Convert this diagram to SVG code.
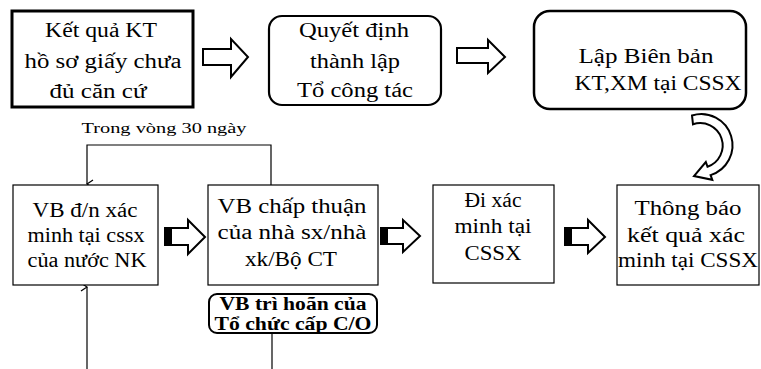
<svg xmlns="http://www.w3.org/2000/svg" width="761" height="369" viewBox="0 0 761 369">
<style>
text{font-family:"Liberation Serif","DejaVu Serif","Times New Roman",serif;fill:#000;text-anchor:middle}
.t{font-size:20px}
.b{font-size:18px;font-weight:bold}
.s{font-size:15px}
.box{fill:#fff;stroke:#000}
.blk{fill:#fff;stroke:#000;stroke-width:2;stroke-linejoin:miter}
.ln{fill:none;stroke:#000;stroke-width:1.2}
</style>
<defs>
<marker id="ah" markerWidth="10" markerHeight="10" refX="5" refY="9" orient="auto-start-reverse" markerUnits="userSpaceOnUse" viewBox="0 0 10 10">
<path d="M1,3 L5,9 L9,3" fill="none" stroke="#000" stroke-width="1.3"/>
</marker>
</defs>
<rect width="761" height="369" fill="#fff"/>

<g id="connectors">
<path class="ln" d="M271,185 V145 H87 V184" marker-end="url(#ah)"/>
<path class="ln" d="M87,369 V287" marker-end="url(#ah)"/>
<path class="ln" d="M272,333 V369"/>
<path class="blk" d="M203,49 H231 V39 L248,57 L231,77 V65 H203 Z"/>
<path class="blk" d="M457,48 H488 V40 L505,57 L488,73 V63 H457 Z"/>
<path class="blk" d="M692,115.5 A31,31 0 0 1 710.6,175.1 L712.3,179.8 L694,176 L705.8,162 L707.5,166.7 A22,22 0 0 0 693,124.3 Z"/>
<path class="blk" d="M165,228 H188 V220 L205,237 L188,254 V245 H165 Z"/>
<rect x="165" y="228" width="7" height="17" fill="#000"/>
<path class="blk" d="M381,228 H403 V220 L420,236 L403,252 V244 H381 Z"/>
<rect x="381" y="228" width="7" height="16" fill="#000"/>
<path class="blk" d="M565,228 H588 V220 L605,237 L588,253 V245 H565 Z"/>
<rect x="565" y="228" width="7" height="17" fill="#000"/>
</g>

<g id="n1">
<rect class="box" x="12" y="11" width="181" height="96" stroke-width="3"/>
<text class="t" x="101" y="37" textLength="112" lengthAdjust="spacingAndGlyphs">Kết quả KT</text>
<text class="t" x="103" y="68" textLength="157" lengthAdjust="spacingAndGlyphs">hồ sơ giấy chưa</text>
<text class="t" x="98" y="98" textLength="97" lengthAdjust="spacingAndGlyphs">đủ căn cứ</text>
</g>

<g id="n2">
<rect class="box" x="269" y="16" width="172" height="89" rx="13" stroke-width="2.2"/>
<text class="t" x="354" y="37" textLength="110" lengthAdjust="spacingAndGlyphs">Quyết định</text>
<text class="t" x="355" y="68" textLength="90" lengthAdjust="spacingAndGlyphs">thành lập</text>
<text class="t" x="355" y="97" textLength="116" lengthAdjust="spacingAndGlyphs">Tổ công tác</text>
</g>

<g id="n3">
<rect class="box" x="534" y="11" width="212" height="98" rx="16" stroke-width="2.5"/>
<text class="t" x="646" y="63" textLength="135" lengthAdjust="spacingAndGlyphs">Lập Biên bản</text>
<text class="t" x="658" y="90" textLength="167" lengthAdjust="spacingAndGlyphs">KT,XM tại CSSX</text>
</g>

<g id="label">
<text class="s" x="164" y="133" textLength="165" lengthAdjust="spacingAndGlyphs">Trong vòng 30 ngày</text>
</g>

<g id="n4">
<rect class="box" x="13" y="185" width="145" height="100" stroke-width="1.2"/>
<text class="t" x="85" y="217" textLength="105" lengthAdjust="spacingAndGlyphs">VB đ/n xác</text>
<text class="t" x="86" y="242" textLength="117" lengthAdjust="spacingAndGlyphs">minh tại cssx</text>
<text class="t" x="87" y="267" textLength="119" lengthAdjust="spacingAndGlyphs">của nước NK</text>
</g>

<g id="n5">
<rect class="box" x="208" y="185" width="170" height="100" stroke-width="1.2"/>
<text class="t" x="292" y="213" textLength="149" lengthAdjust="spacingAndGlyphs">VB chấp thuận</text>
<text class="t" x="292" y="239" textLength="149" lengthAdjust="spacingAndGlyphs">của nhà sx/nhà</text>
<text class="t" x="291" y="266" textLength="92" lengthAdjust="spacingAndGlyphs">xk/Bộ CT</text>
</g>

<g id="n6">
<rect class="box" x="209" y="294" width="168" height="39" rx="8" stroke-width="2"/>
<text class="b" x="293" y="310" textLength="147" lengthAdjust="spacingAndGlyphs">VB trì hoãn của</text>
<text class="b" x="293" y="330" textLength="157" lengthAdjust="spacingAndGlyphs">Tổ chức cấp C/O</text>
</g>

<g id="n7">
<rect class="box" x="433" y="185" width="121" height="98" stroke-width="1.2"/>
<text class="t" x="493" y="207" textLength="57" lengthAdjust="spacingAndGlyphs">Đi xác</text>
<text class="t" x="493" y="233" textLength="77" lengthAdjust="spacingAndGlyphs">minh tại</text>
<text class="t" x="493" y="260" textLength="57" lengthAdjust="spacingAndGlyphs">CSSX</text>
</g>

<g id="n8">
<rect class="box" x="617" y="185" width="142" height="100" stroke-width="1.2"/>
<text class="t" x="688" y="215" textLength="107" lengthAdjust="spacingAndGlyphs">Thông báo</text>
<text class="t" x="686" y="242" textLength="118" lengthAdjust="spacingAndGlyphs">kết quả xác</text>
<text class="t" x="688" y="267" textLength="140" lengthAdjust="spacingAndGlyphs">minh tại CSSX</text>
</g>
</svg>
